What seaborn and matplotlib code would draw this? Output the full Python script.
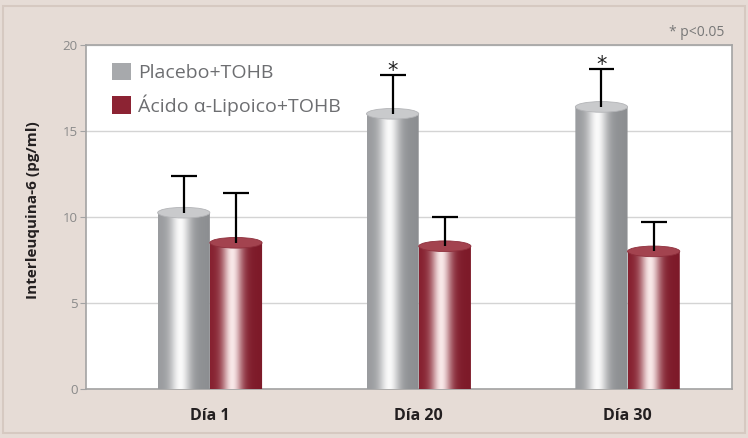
import numpy as np
import pandas as pd
import matplotlib
matplotlib.use("Agg")
import matplotlib.pyplot as plt
import seaborn as sns
from matplotlib.patches import Polygon, Ellipse, Rectangle

# ---- data ----
days = ["Día 1", "Día 20", "Día 30"]
groups = ["Placebo+TOHB", "Ácido α-Lipoico+TOHB"]
placebo = [10.25, 16.0, 16.4]
placebo_err = [2.15, 2.25, 2.2]
lipoico = [8.5, 8.3, 8.0]
lipoico_err = [2.9, 1.7, 1.7]
significant = [False, True, True]
yticks = [0, 5, 10, 15, 20]

sns.set_style("white")
plt.rcParams['font.family'] = ['Open Sans', 'DejaVu Sans']

df = pd.DataFrame({
    "day": days * 2,
    "group": [groups[0]] * 3 + [groups[1]] * 3,
    "value": placebo + lipoico,
})

gray_leg = "#a7a9ac"
red_leg = "#8c2333"

fig = plt.figure(figsize=(7.48, 4.38), dpi=100)
fig.patch.set_facecolor("#e6dcd6")
fig.patches.append(Rectangle((0.004, 0.012), 0.992, 0.975, transform=fig.transFigure,
                             facecolor="none", edgecolor="#d6c9c1", lw=1.5))
ax = fig.add_axes([0.115, 0.1119, 0.8636, 0.7854])
ax.set_facecolor("white")

sns.barplot(data=df, x="day", y="value", hue="group", palette=[gray_leg, red_leg],
            width=0.5, ax=ax, errorbar=None, legend=False)

ax.set_yticks(yticks)
ax.yaxis.grid(True, color="#d4d4d4", lw=1)
ax.set_axisbelow(True)
for s in ax.spines.values():
    s.set_color("#a3a3a3")
    s.set_linewidth(1.2)

def cyl_rgb(dark_l, light, dark_r, n=256):
    t = np.linspace(0, 1, n)
    f = np.exp(-((t - 0.42) / 0.19) ** 2)
    dl = np.array(matplotlib.colors.to_rgb(dark_l))
    dr = np.array(matplotlib.colors.to_rgb(dark_r))
    lt = np.array(matplotlib.colors.to_rgb(light))
    base = dl[None, :] * (1 - t)[:, None] + dr[None, :] * t[:, None]
    col = base * (1 - f)[:, None] + lt[None, :] * f[:, None]
    return col[None, :, :]

styles = [
    dict(grad=cyl_rgb("#9a9c9f", "#fafafa", "#8c8e91"), top="#c9cacc", topedge="#b3b4b7"),
    dict(grad=cyl_rgb("#86202f", "#f8e8e8", "#7d1a29"), top="#a3434f", topedge="#8e2f3c"),
]
eh = 0.62  # ellipse height in data units
cap_half = 0.062  # half cap width in data units

err_sets = [placebo_err, lipoico_err]
bar_conts = list(ax.containers)[:2]
for gi, cont in enumerate(bar_conts):
    st = styles[gi]
    for bi, bar in enumerate(cont.patches):
        bar.set_alpha(0)
        x0 = bar.get_x()
        w = bar.get_width()
        v = bar.get_height()
        xc = x0 + w / 2
        th = np.linspace(0, np.pi, 40)
        arc = np.column_stack([xc + w / 2 * np.cos(th), -eh / 2 * np.sin(th)])
        pts = np.vstack([[[x0, v], [x0 + w, v]], arc])
        poly = Polygon(pts, closed=True, facecolor="none", edgecolor="none",
                       transform=ax.transData)
        ax.add_patch(poly)
        poly.set_clip_on(False)
        im = ax.imshow(st["grad"], extent=[x0, x0 + w, -eh, v], aspect="auto",
                       zorder=3, interpolation="bilinear")
        im.set_clip_path(poly)
        im.set_clip_box(None)
        top = Ellipse((xc, v), w, eh, facecolor=st["top"], edgecolor=st["topedge"],
                      lw=0.6, zorder=4)
        ax.add_patch(top)
        err = err_sets[gi][bi]
        ax.vlines(xc, v, v + err, color="black", lw=1.6, zorder=5)
        ax.hlines(v + err, xc - cap_half, xc + cap_half, color="black", lw=1.6, zorder=5)
        if gi == 0 and significant[bi]:
            ax.annotate("*", (xc, v + err), xytext=(0, -1.5), textcoords="offset points",
                        ha="center", va="baseline", fontsize=15, color="#222222",
                        zorder=6, family="DejaVu Sans")

ax.set_xlim(-0.593, 2.5)
ax.set_ylim(0, 20)
ax.set_xlabel("")
ax.set_ylabel("Interleuquina-6 (pg/ml)", fontsize=11, fontweight="bold",
              color="#231f20")
ax.yaxis.set_label_coords(-0.072, 0.52)
ax.tick_params(axis="y", length=4, color="#a3a3a3", labelcolor="#8a8a8a",
               labelsize=9.5, pad=2, left=True)
ax.tick_params(axis="x", length=0, labelsize=11.5, pad=14)
for lab in ax.get_xticklabels():
    lab.set_fontweight("bold")
    lab.set_color("#231f20")

handles = [Rectangle((0, 0), 1, 1, facecolor=gray_leg, edgecolor="none"),
           Rectangle((0, 0), 1, 1, facecolor=red_leg, edgecolor="none")]
ax.legend(handles, groups, loc="upper left", bbox_to_anchor=(0.040, 0.948),
          frameon=False, fontsize=14, handlelength=1.0, handleheight=1.0,
          handletextpad=0.35, labelspacing=0.62, borderpad=0, borderaxespad=0,
          labelcolor="#6d6e71")

fig.text(0.968, 0.925, "* p<0.05", ha="right", va="center", fontsize=10, color="#777777")

fig.savefig("out.png", dpi=100, facecolor=fig.get_facecolor())
